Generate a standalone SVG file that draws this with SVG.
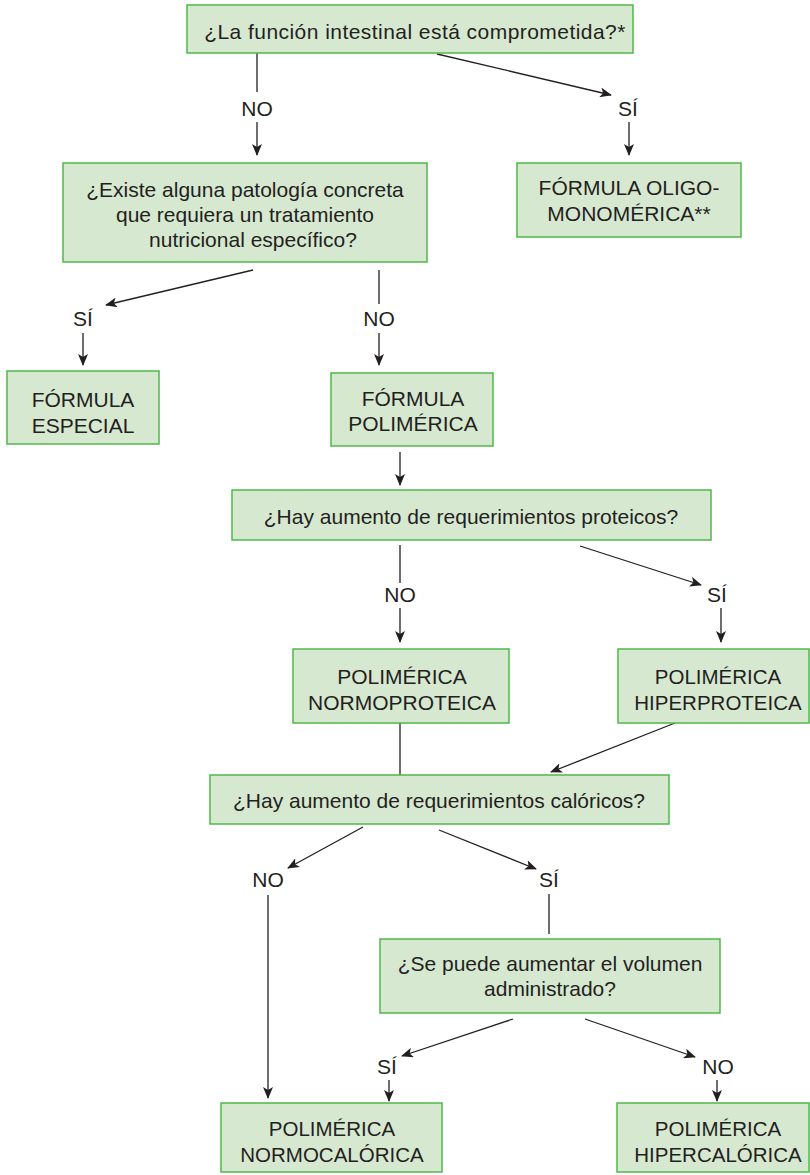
<svg xmlns="http://www.w3.org/2000/svg" width="810" height="1175" viewBox="0 0 810 1175">
<style>
.box{fill:#d7e8d1;stroke:#4fb848;stroke-width:1.5}
.t{font-family:"Liberation Sans",Arial,sans-serif;font-size:21px;fill:#231f20;text-anchor:middle}
.s{font-size:20.5px}
.c{stroke:#231f20;stroke-width:1.3;fill:none}
.a{marker-end:url(#ah)}
</style>
<defs>
<marker id="ah" viewBox="0 0 12 10" refX="11" refY="5" markerWidth="12" markerHeight="10" markerUnits="userSpaceOnUse" orient="auto">
<path d="M0,0 L12,5 L0,10 L3,5 z" fill="#231f20"/>
</marker>
</defs>
<rect width="810" height="1175" fill="#fff"/>
<g id="connectors">
<line class="c" x1="257" y1="53" x2="257" y2="92"/>
<line class="c a" x1="257" y1="122" x2="257" y2="155"/>
<line class="c a" x1="437" y1="54" x2="611" y2="95"/>
<line class="c a" x1="629" y1="122" x2="629" y2="155"/>
<line class="c a" x1="253" y1="270" x2="106" y2="305"/>
<line class="c a" x1="83" y1="333" x2="83" y2="365"/>
<line class="c" x1="379" y1="270" x2="379" y2="304"/>
<line class="c a" x1="379" y1="333" x2="379" y2="365"/>
<line class="c a" x1="400" y1="452" x2="400" y2="485"/>
<line class="c" x1="400" y1="545" x2="400" y2="583"/>
<line class="c a" x1="400" y1="608" x2="400" y2="642"/>
<line class="c a" x1="580" y1="546" x2="701" y2="585"/>
<line class="c a" x1="721" y1="608" x2="721" y2="642"/>
<line class="c" x1="400" y1="723" x2="400" y2="775"/>
<line class="c a" x1="675" y1="723" x2="551" y2="772"/>
<line class="c a" x1="363" y1="827" x2="288" y2="868"/>
<line class="c a" x1="268" y1="895" x2="268" y2="1098"/>
<line class="c a" x1="439" y1="830" x2="536" y2="869"/>
<line class="c" x1="549" y1="894" x2="549" y2="934"/>
<line class="c a" x1="513" y1="1019" x2="402" y2="1056"/>
<line class="c a" x1="389" y1="1080" x2="389" y2="1101"/>
<line class="c a" x1="585" y1="1019" x2="695" y2="1057"/>
<line class="c a" x1="717" y1="1080" x2="717" y2="1101"/>
</g>
<g id="labels">
<text class="t" x="257" y="116">NO</text>
<text class="t" x="628" y="116">SÍ</text>
<text class="t" x="83" y="326">SÍ</text>
<text class="t" x="379" y="326">NO</text>
<text class="t" x="400" y="602">NO</text>
<text class="t" x="717" y="602">SÍ</text>
<text class="t" x="268" y="887">NO</text>
<text class="t" x="549" y="887">SÍ</text>
<text class="t" x="387" y="1074">SÍ</text>
<text class="t" x="718" y="1074">NO</text>
</g>
<g id="n1"><rect class="box" x="187" y="5" width="446" height="48"/><text class="t" x="415" y="39" letter-spacing="0.45">¿La función intestinal está comprometida?*</text></g>
<g id="n2"><rect class="box" x="63" y="163" width="364" height="99"/>
<text class="t" x="245" y="197">¿Existe alguna patología concreta</text>
<text class="t" x="245" y="222">que requiera un tratamiento</text>
<text class="t" x="253" y="247">nutricional específico?</text></g>
<g id="n3"><rect class="box" x="517" y="163" width="224" height="74"/>
<text class="t" x="629" y="195">FÓRMULA OLIGO-</text>
<text class="t" x="629" y="221">MONOMÉRICA**</text></g>
<g id="n4"><rect class="box" x="7" y="371" width="152" height="73"/>
<text class="t" x="83" y="407">FÓRMULA</text>
<text class="t" x="83" y="433">ESPECIAL</text></g>
<g id="n5"><rect class="box" x="331" y="373" width="162" height="73"/>
<text class="t" x="413" y="406">FÓRMULA</text>
<text class="t" x="413" y="431">POLIMÉRICA</text></g>
<g id="n6"><rect class="box" x="232" y="490" width="479" height="50"/>
<text class="t" x="471" y="524">¿Hay aumento de requerimientos proteicos?</text></g>
<g id="n7"><rect class="box" x="293" y="649" width="216" height="74"/>
<text class="t" x="402" y="684" font-size="20">POLIMÉRICA</text>
<text class="t" x="402" y="710" font-size="20">NORMOPROTEICA</text></g>
<g id="n8"><rect class="box" x="618" y="649" width="191" height="74"/>
<text class="t s" x="718" y="684">POLIMÉRICA</text>
<text class="t s" x="718" y="710">HIPERPROTEICA</text></g>
<g id="n9"><rect class="box" x="210" y="775" width="459" height="49"/>
<text class="t" x="439" y="808">¿Hay aumento de requerimientos calóricos?</text></g>
<g id="n10"><rect class="box" x="380" y="939" width="340" height="74"/>
<text class="t" x="550" y="971">¿Se puede aumentar el volumen</text>
<text class="t" x="550" y="996">administrado?</text></g>
<g id="n11"><rect class="box" x="221" y="1103" width="221" height="69"/>
<text class="t s" x="332" y="1136">POLIMÉRICA</text>
<text class="t s" x="332" y="1162">NORMOCALÓRICA</text></g>
<g id="n12"><rect class="box" x="617" y="1103" width="192" height="69"/>
<text class="t s" x="718" y="1136">POLIMÉRICA</text>
<text class="t s" x="718" y="1162">HIPERCALÓRICA</text></g>
</svg>
